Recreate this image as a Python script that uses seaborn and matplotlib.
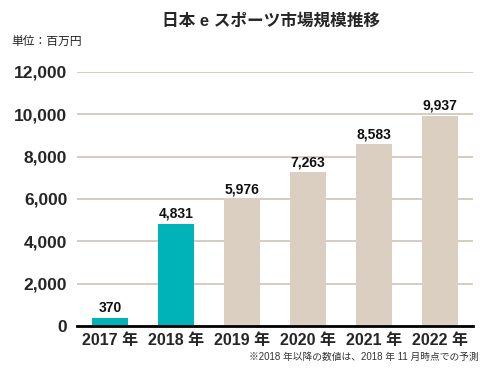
import matplotlib
matplotlib.use("Agg")
import matplotlib.pyplot as plt
import seaborn as sns
import pandas as pd
from matplotlib.ticker import FuncFormatter

years = ["2017 年", "2018 年", "2019 年", "2020 年", "2021 年", "2022 年"]
values = [370, 4831, 5976, 7263, 8583, 9937]
colors = ["#00B3B9", "#00B3B9", "#DBCFC1", "#DBCFC1", "#DBCFC1", "#DBCFC1"]

sns.set_theme(style="white")
plt.rcParams["font.family"] = ["Liberation Sans", "Noto Sans CJK JP", "DejaVu Sans"]

df = pd.DataFrame({"year": years, "value": values})

fig = plt.figure(figsize=(5, 3.75), dpi=100)
ax = fig.add_axes([0.154, 0.131, 0.792, 0.677])

sns.barplot(data=df, x="year", y="value", hue="year", palette=colors,
            legend=False, width=0.56, saturation=1, linewidth=0,
            ax=ax, zorder=2)

ax.set_ylim(0, 12000)
ax.set_xlim(-0.5, 5.5)
ax.set_yticks(range(0, 12001, 2000))
ax.yaxis.set_major_formatter(FuncFormatter(lambda v, p: f"{int(v):,}"))
ax.grid(axis="y", color="#CFC4B6", linewidth=1.2, zorder=0)
ax.set_axisbelow(True)
for s in ["top", "right", "left"]:
    ax.spines[s].set_visible(False)
ax.spines["bottom"].set_color("black")
ax.spines["bottom"].set_linewidth(2)
ax.spines["bottom"].set_zorder(3)
ax.tick_params(axis="both", length=0, pad=5)
ax.set_xlabel("")
ax.set_ylabel("")
for lbl in ax.get_xticklabels():
    lbl.set_fontsize(11.5)
    lbl.set_fontweight("bold")
for lbl in ax.get_yticklabels():
    lbl.set_fontsize(12.5)
    lbl.set_fontweight("bold")
ax.tick_params(axis="y", pad=7)

for i, v in enumerate(values):
    ax.text(i, v + 150, f"{v:,}", ha="center", va="bottom",
            fontsize=10, fontweight="bold", color="#111111")

fig.text(0.542, 0.945, "日本 e スポーツ市場規模推移", ha="center", va="center",
         fontsize=12, fontweight="bold")
fig.text(0.022, 0.888, "単位：百万円", ha="left", va="center", fontsize=8.5,
         color="#222222")
fig.text(0.958, 0.048, "※2018 年以降の数値は、2018 年 11 月時点での予測",
         ha="right", va="center", fontsize=7, color="#333333")

fig.savefig("out.png", dpi=100)
